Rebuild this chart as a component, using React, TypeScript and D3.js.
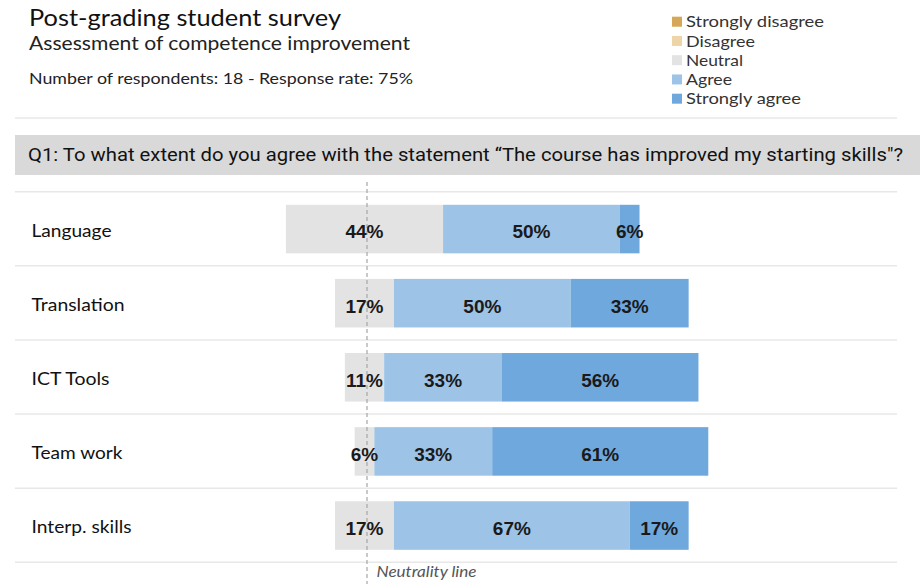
import React from "react";
import * as d3 from "d3";

const RESPONDENTS = 18;
const RESPONSE_RATE = 75;
const categories = ["Language", "Translation", "ICT Tools", "Team work", "Interp. skills"];
// counts of respondents per answer (out of 18)
const stronglyDisagree = [0, 0, 0, 0, 0];
const disagree = [0, 0, 0, 0, 0];
const neutral = [8, 3, 2, 1, 3];
const agree = [9, 9, 6, 6, 12];
const stronglyAgree = [1, 6, 10, 11, 3];
const legendLabels = ["Strongly disagree", "Disagree", "Neutral", "Agree", "Strongly agree"];
const legendColors = ["#D6A757", "#EDD5A8", "#E3E3E3", "#9DC3E6", "#6FA8DC"];

const W = 920;
const H = 584;
const SANS = "Lato, 'Open Sans', sans-serif";
const BOLD = "'Liberation Sans', Arial, sans-serif";

// measured text widths for the wider original typeface
const categoryWidths = [80, 93, 78, 91, 100];
const legendWidths = [138, 69, 57, 46, 115];

export default function App() {
  const x = d3.scaleLinear().domain([-50, 100]).range([187.7, 718.1]);
  const y = d3.scaleBand<string>().domain(categories).range([191.7, 562.3]).padding(0);
  const barH = y.bandwidth() * 0.655;
  const pct = (v: number) => (v / RESPONDENTS) * 100;

  const rows = categories.map((c, i) => {
    const n = pct(neutral[i]);
    const a = pct(agree[i]);
    const s = pct(stronglyAgree[i]);
    const d = pct(disagree[i]);
    const sd = pct(stronglyDisagree[i]);
    const segs: { v: number; x0: number; x1: number; color: string }[] = [];
    const left = -n / 2;
    segs.push({ v: d, x0: left - d, x1: left, color: legendColors[1] });
    segs.push({ v: sd, x0: left - d - sd, x1: left - d, color: legendColors[0] });
    segs.push({ v: n, x0: -n / 2, x1: n / 2, color: legendColors[2] });
    segs.push({ v: a, x0: n / 2, x1: n / 2 + a, color: legendColors[3] });
    segs.push({ v: s, x0: n / 2 + a, x1: n / 2 + a + s, color: legendColors[4] });
    return { c, i, segs: segs.filter((sg) => sg.v > 0) };
  });

  const boundaries = [...categories.map((c) => y(c) as number), 562.3];
  const zeroX = x(0) + 2.5;

  return (
    <svg width={W} height={H} style={{ position: "absolute", left: 0, top: 0, background: "#fff" }}>
      {/* Titles */}
      <text x={29} y={26} fontFamily={SANS} fontSize={23} fill="#111" textLength={312} lengthAdjust="spacingAndGlyphs">
        Post-grading student survey
      </text>
      <text x={29} y={50} fontFamily={SANS} fontSize={19} fill="#222" textLength={381} lengthAdjust="spacingAndGlyphs">
        Assessment of competence improvement
      </text>
      <text x={29} y={84} fontFamily={SANS} fontSize={15.5} fill="#222" textLength={384} lengthAdjust="spacingAndGlyphs">
        {`Number of respondents: ${RESPONDENTS} - Response rate: ${RESPONSE_RATE}%`}
      </text>

      {/* Legend */}
      {legendLabels.map((l, i) => (
        <g key={l} transform={`translate(672, ${21.7 + i * 19.25})`}>
          <rect x={0} y={-5} width={10} height={10} fill={legendColors[i]} />
          <text
            x={14}
            y={0}
            dy="0.35em"
            fontFamily={SANS}
            fontSize={16}
            fill="#333"
            textLength={legendWidths[i]}
            lengthAdjust="spacingAndGlyphs"
          >
            {l}
          </text>
        </g>
      ))}

      {/* header separator */}
      <line x1={15} x2={897} y1={118} y2={118} stroke="#E8E8E8" strokeWidth={1.5} />

      {/* Question box */}
      <rect x={15} y={135} width={905} height={40} fill="#D9D9D9" />
      <text
        x={28}
        y={155}
        dy="0.35em"
        fontFamily="'Liberation Sans Narrow', 'Roboto', sans-serif"
        fontSize={18.5}
        fill="#111"
        textLength={875}
        lengthAdjust="spacingAndGlyphs"
      >
        Q1: To what extent do you agree with the statement “The course has improved my starting skills"?
      </text>

      {/* row separators */}
      {boundaries.map((b, i) => (
        <line key={i} x1={15} x2={897} y1={b} y2={b} stroke="#E8E8E8" strokeWidth={1.5} />
      ))}

      {/* bars */}
      {rows.map((r) => {
        const yc = (y(r.c) as number) + y.bandwidth() / 2;
        return (
          <g key={r.c}>
            <text
              x={31.5}
              y={yc + 2}
              dy="0.35em"
              fontFamily={SANS}
              fontSize={16.5}
              fill="#111"
              textLength={categoryWidths[r.i]}
              lengthAdjust="spacingAndGlyphs"
            >
              {r.c}
            </text>
            {r.segs.map((s, j) => (
              <rect key={j} x={x(s.x0)} y={yc - barH / 2 + 0.3} width={x(s.x1) - x(s.x0)} height={barH} fill={s.color} />
            ))}
          </g>
        );
      })}

      {/* neutrality line */}
      <line x1={zeroX} x2={zeroX} y1={182} y2={H} stroke="#A6A6A6" strokeWidth={1.2} strokeDasharray="4,3" />

      {/* value labels */}
      {rows.map((r) => {
        const yc = (y(r.c) as number) + y.bandwidth() / 2;
        return (
          <g key={r.c + "l"}>
            {r.segs.map((s, j) => (
              <text
                key={j}
                x={(x(s.x0) + x(s.x1)) / 2}
                y={yc + 3}
                dy="0.35em"
                textAnchor="middle"
                fontFamily={BOLD}
                fontWeight="bold"
                fontSize={19}
                fill="#1A1A1A"
              >
                {`${Math.round(s.v)}%`}
              </text>
            ))}
          </g>
        );
      })}

      <text
        x={376.5}
        y={577}
        fontFamily={SANS}
        fontStyle="italic"
        fontSize={15}
        fill="#555"
        textLength={100}
        lengthAdjust="spacingAndGlyphs"
      >
        Neutrality line
      </text>
    </svg>
  );
}
